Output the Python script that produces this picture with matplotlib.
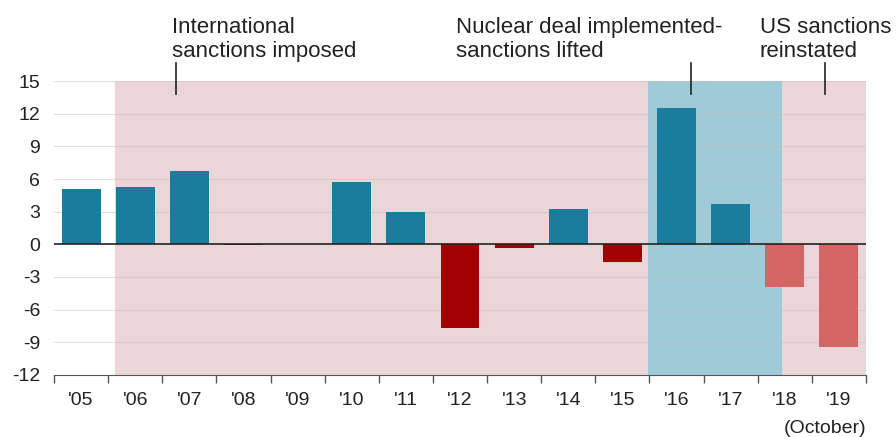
import numpy as np
import matplotlib.pyplot as plt

plt.rcParams['font.family'] = ['Liberation Sans', 'DejaVu Sans']

# annual GDP growth (%)
years = ["'05", "'06", "'07", "'08", "'09", "'10", "'11", "'12", "'13",
         "'14", "'15", "'16", "'17", "'18", "'19"]
growth = [5.1, 5.3, 6.7, -0.1, 0.0, 5.7, 3.0, -7.7, -0.3,
          3.2, -1.6, 12.5, 3.7, -3.9, -9.4]
# forecast years drawn in lighter red
forecast = ["'18", "'19"]

blue = '#1a7d9e'
dark_red = '#a00000'
light_red = '#d56464'
pink = '#ead6d9'
light_blue = '#a0cad8'

fig = plt.figure(figsize=(8.96, 4.37), dpi=100)
ax = fig.add_axes([0.0603, 0.1419, 0.9062, 0.6727])

x = np.arange(len(years))
colors = []
for y, v in zip(years, growth):
    if v >= 0:
        colors.append(blue)
    elif y in forecast:
        colors.append(light_red)
    else:
        colors.append(dark_red)

# shaded periods
ax.axvspan(0.625, 10.48, color=pink, lw=0, zorder=0)
ax.axvspan(10.48, 12.95, color=light_blue, lw=0, zorder=0)
ax.axvspan(12.95, 14.5, color=pink, lw=0, zorder=0)

yticks = np.arange(-12, 16, 3)
for t in yticks:
    if t != 0:
        ax.axhline(t, color='#c9b8bb', lw=0.7, alpha=0.5, zorder=1)

ax.bar(x, growth, width=0.72, color=colors, zorder=2)
ax.axhline(0, color='#222222', lw=1.2, zorder=3)

ax.set_xlim(-0.5, 14.5)
ax.set_ylim(-12, 15)
ax.set_yticks(yticks)
ax.set_yticklabels([str(t) for t in yticks], fontsize=14, color='#222222')
ax.tick_params(axis='y', length=0, pad=10)

# ticks at category boundaries, labels centred in each slot
ax.set_xticks(np.arange(-0.5, 15, 1))
ax.set_xticklabels([])
ax.set_xticks(x, minor=True)
ax.set_xticklabels(years, minor=True, fontsize=14, color='#222222')
ax.tick_params(axis='x', which='major', length=6, color='#555555', width=1)
ax.tick_params(axis='x', which='minor', length=0, pad=12)

for s in ['top', 'left', 'right']:
    ax.spines[s].set_visible(False)
ax.spines['bottom'].set_color('#555555')

ax.text(14.5, -16.9, '(October)', ha='right', va='center', fontsize=14,
        color='#222222')

# annotations: (line x, text, text left x)
notes = [
    (1.75, 'International\nsanctions imposed', 1.68),
    (11.27, 'Nuclear deal implemented-\nsanctions lifted', 6.92),
    (13.74, 'US sanctions\nreinstated', 12.54),
]
for xl, txt, xt in notes:
    ax.plot([xl, xl], [13.8, 16.7], color='#222222', lw=1.2, clip_on=False,
            zorder=4)
    ax.text(xt, 16.75, txt, ha='left', va='bottom', fontsize=16,
            color='#222222', linespacing=1.2)

fig.savefig('out.png', dpi=100)
